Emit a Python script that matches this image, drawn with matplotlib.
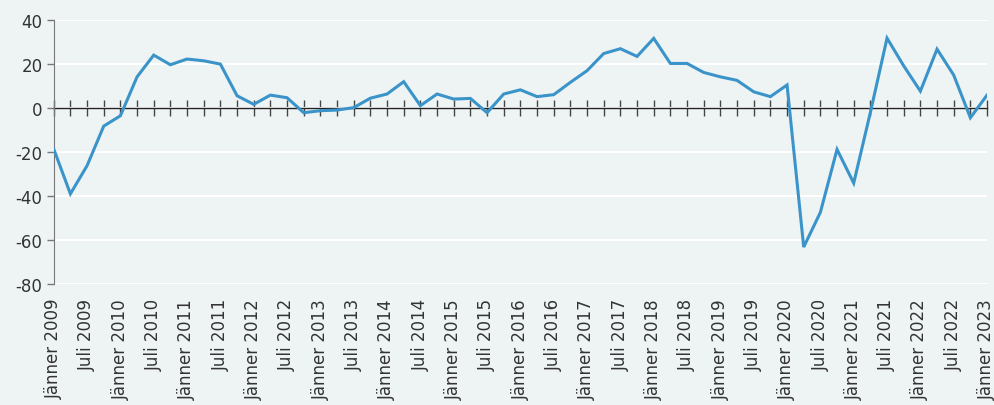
import numpy as np
import matplotlib
matplotlib.use("Agg")
import matplotlib.pyplot as plt
from matplotlib.ticker import MultipleLocator, FixedLocator, NullFormatter

# quarterly values, Jänner 2009 .. Jänner 2023
values = [
    -18.6, -39.0, -26.2, -8.2,
    -3.5, 14.2, 24.1, 19.7,
    22.3, 21.5, 20.0, 5.6,
    1.7, 5.9, 4.7, -2.1,
    -1.2, -0.9, 0.2, 4.5,
    6.4, 12.0, 1.1, 6.4,
    4.1, 4.4, -2.1, 6.4,
    8.3, 5.2, 6.1, 11.7,
    17.0, 24.8, 27.0, 23.5,
    31.7, 20.3, 20.3, 16.2,
    14.2, 12.6, 7.4, 5.2,
    10.5, -63.2, -47.4, -18.8,
    -34.1, -2.0, 31.8, 19.2,
    7.7, 26.8, 15.0, -4.4,
    5.9,
]
years = list(range(2009, 2024))
tick_labels = []
for y in years:
    tick_labels.append(f"Jänner {y}")
    if y < 2023:
        tick_labels.append(f"Juli {y}")

bg = "#eef4f4"
line_color = "#3b94c9"
text_color = "#333333"

plt.rcParams["font.family"] = ["DejaVu Sans"]
plt.rcParams["axes.unicode_minus"] = False

fig = plt.figure(figsize=(9.95, 4.06), dpi=100, facecolor=bg)
ax = fig.add_axes([0.054, 0.298, 0.938, 0.650], facecolor=bg)

x = np.arange(len(values))
ax.plot(x, values, color=line_color, lw=2.2, zorder=3, solid_joinstyle="miter")

ax.set_xlim(0, len(values) - 1)
ax.set_ylim(-80, 40)
ax.yaxis.set_major_locator(MultipleLocator(20))
ax.grid(axis="y", color="white", lw=1.5, zorder=0)
ax.set_axisbelow(True)

# zero line with crossing quarterly ticks
for side in ["top", "right"]:
    ax.spines[side].set_visible(False)
ax.spines["bottom"].set_position(("data", 0))
ax.spines["bottom"].set_color("#222222")
ax.spines["bottom"].set_linewidth(1.0)
ax.spines["bottom"].set_zorder(2)
ax.xaxis.set_major_locator(MultipleLocator(1))
ax.xaxis.set_major_formatter(NullFormatter())
ax.tick_params(axis="x", direction="inout", length=11, width=1, color="#444444")

ax.spines["left"].set_color("#777777")
ax.tick_params(axis="y", direction="out", length=5, width=1, color="#777777",
               labelsize=12, labelcolor=text_color, pad=3)

# labels at the bottom every half year
sec = ax.secondary_xaxis("bottom")
sec.spines["bottom"].set_visible(False)
sec.xaxis.set_major_locator(FixedLocator(np.arange(0, len(values), 2)))
sec.set_xticklabels(tick_labels, rotation=90, fontsize=12, color=text_color,
                    va="top", ha="center")
sec.tick_params(axis="x", length=0, pad=10)

fig.savefig("out.png", dpi=100, facecolor=bg)
